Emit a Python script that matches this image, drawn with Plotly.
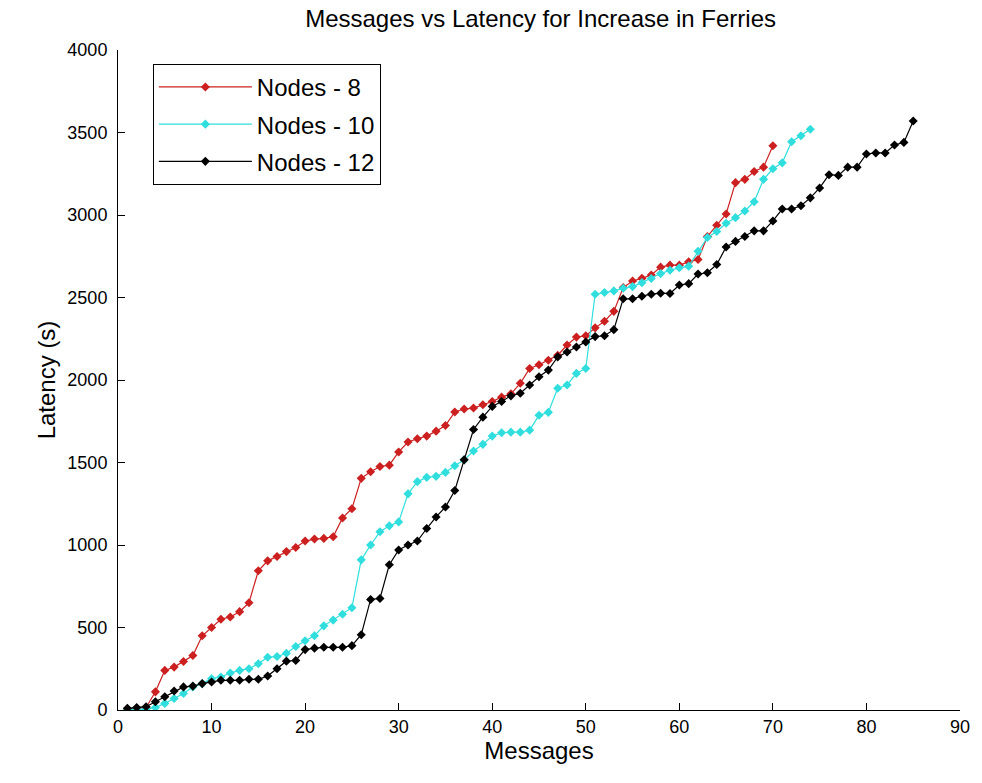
import plotly.graph_objects as go

title = "Messages vs Latency for Increase in Ferries"
x_label = "Messages"
y_label = "Latency (s)"
x_ticks = [0, 10, 20, 30, 40, 50, 60, 70, 80, 90]
y_ticks = [0, 500, 1000, 1500, 2000, 2500, 3000, 3500, 4000]

names = ["Nodes - 8", "Nodes - 10", "Nodes - 12"]

nodes8 = [5, 10, 15, 110, 240, 260, 294, 330, 450, 500,
          550, 564, 596, 650, 844, 904, 930, 960, 985, 1024,
          1036, 1040, 1050, 1164, 1220, 1404, 1444, 1476, 1484, 1564,
          1624, 1644, 1660, 1690, 1724, 1806, 1824, 1830, 1850, 1870,
          1896, 1916, 1980, 2070, 2092, 2120, 2150, 2212, 2260, 2268,
          2316, 2356, 2416, 2560, 2600, 2616, 2636, 2684, 2696, 2696,
          2716, 2730, 2870, 2938, 3006, 3196, 3216, 3264, 3290, 3420]

nodes10 = [5, 5, 5, 15, 40, 70, 100, 140, 160, 190,
           200, 224, 240, 250, 280, 320, 324, 344, 385, 420,
           450, 510, 545, 580, 620, 910, 1000, 1080, 1116, 1140,
           1310, 1384, 1410, 1416, 1440, 1480, 1516, 1570, 1610, 1660,
           1680, 1684, 1684, 1696, 1786, 1804, 1950, 1970, 2040, 2070,
           2520, 2530, 2540, 2556, 2566, 2590, 2615, 2645, 2665, 2680,
           2690, 2780, 2864, 2900, 2950, 2984, 3024, 3080, 3216, 3280,
           3316, 3444, 3480, 3520]

nodes12 = [10, 15, 20, 50, 80, 115, 140, 145, 160, 170,
           180, 180, 180, 186, 186, 206, 250, 296, 300, 366,
           375, 380, 380, 380, 390, 456, 670, 676, 880, 970,
           1000, 1024, 1100, 1170, 1230, 1330, 1516, 1700, 1775, 1840,
           1870, 1904, 1920, 1970, 2020, 2060, 2140, 2170, 2200, 2230,
           2263, 2268, 2305, 2492, 2492, 2508, 2520, 2526, 2524, 2576,
           2584, 2642, 2650, 2700, 2806, 2840, 2870, 2904, 2904, 2964,
           3036, 3036, 3056, 3104, 3164, 3244, 3240, 3290, 3290, 3370,
           3376, 3376, 3424, 3440, 3570]

series = [nodes8, nodes10, nodes12]
colors = ["#cc2020", "#30dede", "#000000"]

FONT = "Liberation Sans, Arial, sans-serif"

fig = go.Figure()
for i, (nm, ys, col) in enumerate(zip(names, series, colors)):
    xs = list(range(1, len(ys) + 1))
    fig.add_trace(go.Scatter(
        x=xs, y=ys, name=nm, mode="lines+markers",
        line=dict(color=col, width=1.2),
        marker=dict(symbol="diamond", size=7, color=col),
        legendgroup=nm,
    ))

axis_common = dict(
    showline=True, linecolor="black", linewidth=1,
    ticks="inside", ticklen=7, tickcolor="black", tickwidth=1,
    showgrid=False, zeroline=False, mirror=False,
    tickfont=dict(family=FONT, size=18, color="black"),
)

fig.update_layout(
    width=982, height=783,
    paper_bgcolor="white", plot_bgcolor="white",
    margin=dict(l=118, r=19, t=50, b=73),
    title=dict(text=title, x=0.5505, xanchor="center", y=0.976, yanchor="middle",
               font=dict(family=FONT, size=24, color="black")),
    xaxis=dict(range=[0, 90], tickvals=x_ticks,
               title=dict(text=x_label, font=dict(family=FONT, size=24, color="black"), standoff=4),
               **axis_common),
    yaxis=dict(range=[0, 4000], tickvals=y_ticks, ticklabelstandoff=6,
               title=dict(text=y_label, font=dict(family=FONT, size=24, color="black"), standoff=4),
               **axis_common),
    legend=dict(x=0.0414, y=0.979, xanchor="left", yanchor="top",
                bgcolor="white", bordercolor="black", borderwidth=1,
                font=dict(family=FONT, size=24, color="black"),
                tracegroupgap=3, itemwidth=93),
    showlegend=True,
)

fig.write_html("out.html")
